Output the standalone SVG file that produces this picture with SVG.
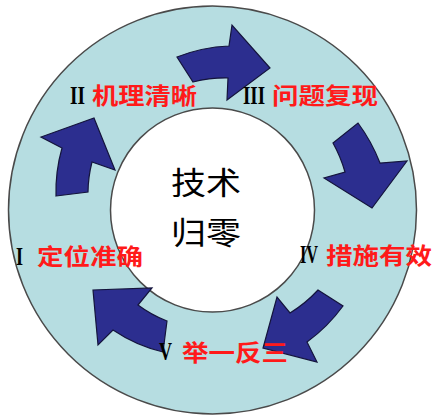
<svg xmlns="http://www.w3.org/2000/svg" width="432" height="419" viewBox="0 0 432 419">
<style>
.ring{fill:#b6dde1;stroke:#4a4a4a;stroke-width:1.5;fill-rule:evenodd}
.arr{fill:#2c2e8f;stroke:#14143c;stroke-width:1.2;stroke-linejoin:miter}
.num{font-family:"Liberation Serif","Times New Roman",serif;font-weight:bold;font-size:25px;fill:#000}
.lbl{font-family:"Noto Sans CJK SC","Noto Sans",sans-serif;font-weight:bold;font-size:22.5px;fill:#ff1a1a}
.ctr{font-family:"Noto Sans CJK SC","Noto Sans",sans-serif;font-weight:400;font-size:31px;fill:#000}
</style>
<rect width="432" height="419" fill="#fff"/>
<g id="ring">
<path class="ring" d="M416.5,210 A204,204 0 1 1 8.5,210 A204,204 0 1 1 416.5,210 Z M314.5,210 A102,102 0 1 0 110.5,210 A102,102 0 1 0 314.5,210 Z"/>
</g>
<g id="connectors">
<path id="arrow-I-II" class="arr" d="M56,196 L88,192 A127,127 0 0 1 92,162 L115,170 L94,118 L41,137 L62,148 A160,160 0 0 0 56,196 Z"/>
<path id="arrow-II-III" class="arr" d="M177,57 A160,160 0 0 1 229,46 L232,25 L270,68 L227,100 L228,78 A131,131 0 0 0 193,82 Z"/>
<path id="arrow-III-IV" class="arr" d="M333,143 L358,123 A172,172 0 0 1 380,163 L407,161 L372,208 L324,178 L345,172 A138,138 0 0 0 333,143 Z"/>
<path id="arrow-IV-V" class="arr" d="M318,290 L343,306 A162,162 0 0 1 307,342 L317,362 L263,348 L277,297 L290,313 A131,131 0 0 0 318,290 Z"/>
<path id="arrow-V-I" class="arr" d="M163,352 L167,321 A120,120 0 0 1 138,305 L152,288 L93,290 L98,345 L113,330 A153,153 0 0 0 163,352 Z"/>
</g>
<g id="center">
<text class="ctr" x="171" y="194" textLength="70" lengthAdjust="spacingAndGlyphs">技术</text>
<text class="ctr" x="171" y="244" textLength="70" lengthAdjust="spacingAndGlyphs">归零</text>
</g>
<g id="step-I">
<text class="num" x="16" y="265" textLength="7" lengthAdjust="spacingAndGlyphs">I</text>
<text class="lbl" x="37" y="265" textLength="106" lengthAdjust="spacingAndGlyphs">定位准确</text>
</g>
<g id="step-II">
<text class="num" x="70" y="104" textLength="15" lengthAdjust="spacingAndGlyphs">II</text>
<text class="lbl" x="92" y="103.5" textLength="105" lengthAdjust="spacingAndGlyphs">机理清晰</text>
</g>
<g id="step-III">
<text class="num" x="243" y="104" textLength="22" lengthAdjust="spacingAndGlyphs">III</text>
<text class="lbl" x="272" y="103.5" textLength="106" lengthAdjust="spacingAndGlyphs">问题复现</text>
</g>
<g id="step-IV">
<text class="num" x="300" y="263" textLength="18" lengthAdjust="spacingAndGlyphs">IV</text>
<text class="lbl" x="326" y="264" textLength="106" lengthAdjust="spacingAndGlyphs">措施有效</text>
</g>
<g id="step-V">
<text class="num" x="159" y="360" textLength="13" lengthAdjust="spacingAndGlyphs">V</text>
<text class="lbl" x="182" y="361" textLength="106" lengthAdjust="spacingAndGlyphs">举一反三</text>
</g>
</svg>
